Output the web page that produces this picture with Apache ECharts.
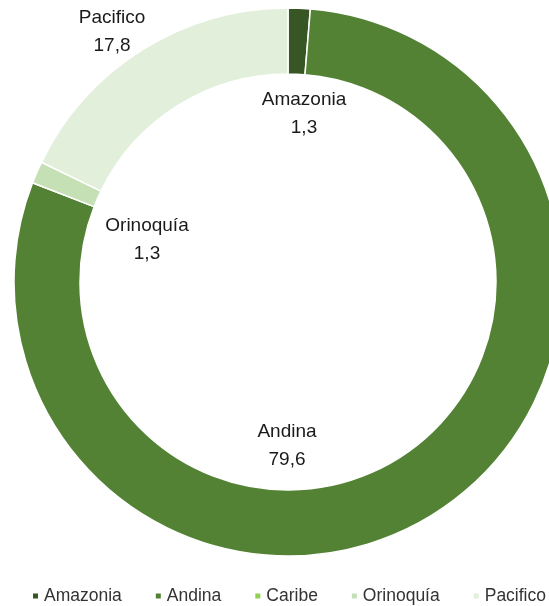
<!DOCTYPE html>
<html>
<head>
<meta charset="utf-8">
<script src="https://cdn.jsdelivr.net/npm/echarts@6/dist/echarts.min.js"></script>
<style>
html,body{margin:0;padding:0;background:#fff;}
#chart{width:549px;height:606px;}
</style>
</head>
<body>
<div id="chart"></div>
<script>
// Data
var categories = ['Amazonia', 'Andina', 'Caribe', 'Orinoquía', 'Pacifico'];
var values = [1.3, 79.6, 0.0, 1.3, 17.8];
var colors = ['#375623', '#548235', '#92D050', '#C5E0B4', '#E2EFDA'];
// label anchor points (pixels) for the data labels, as placed in the reference
var labelAnchors = [[304, 114], [287, 446], null, [147, 240], [112, 32]];

var FONT = '"Liberation Sans", Arial, sans-serif';

var chart = echarts.init(document.getElementById('chart'), null, {renderer: 'canvas'});

var seriesData = categories.map(function (c, i) {
  return {
    name: c,
    value: values[i],
    itemStyle: {color: colors[i]},
    label: {show: values[i] > 0}
  };
});

chart.setOption({
  animation: false,
  backgroundColor: '#ffffff',
  legend: {
    top: 587,
    left: 31,
    width: 540,
    padding: 0,
    icon: 'rect',
    itemWidth: 7,
    itemHeight: 7,
    itemGap: 32,
    data: categories,
    textStyle: {fontFamily: FONT, fontSize: 17.5, color: '#333333'}
  },
  series: [{
    type: 'pie',
    center: [288, 282],
    radius: [208, 274],
    startAngle: 90,
    clockwise: true,
    avoidLabelOverlap: false,
    silent: true,
    itemStyle: {borderColor: '#ffffff', borderWidth: 1.5},
    label: {
      show: true,
      position: 'inside',
      fontFamily: FONT,
      fontSize: 19,
      lineHeight: 28,
      color: '#1a1a1a',
      formatter: function (p) {
        return p.name + '\n' + String(p.value.toFixed(1)).replace('.', ',');
      }
    },
    labelLine: {show: false},
    labelLayout: function (p) {
      var a = labelAnchors[p.dataIndex];
      if (!a) return {};
      return {x: a[0], y: a[1], align: 'center', verticalAlign: 'middle'};
    },
    data: seriesData
  }]
});
</script>
</body>
</html>
